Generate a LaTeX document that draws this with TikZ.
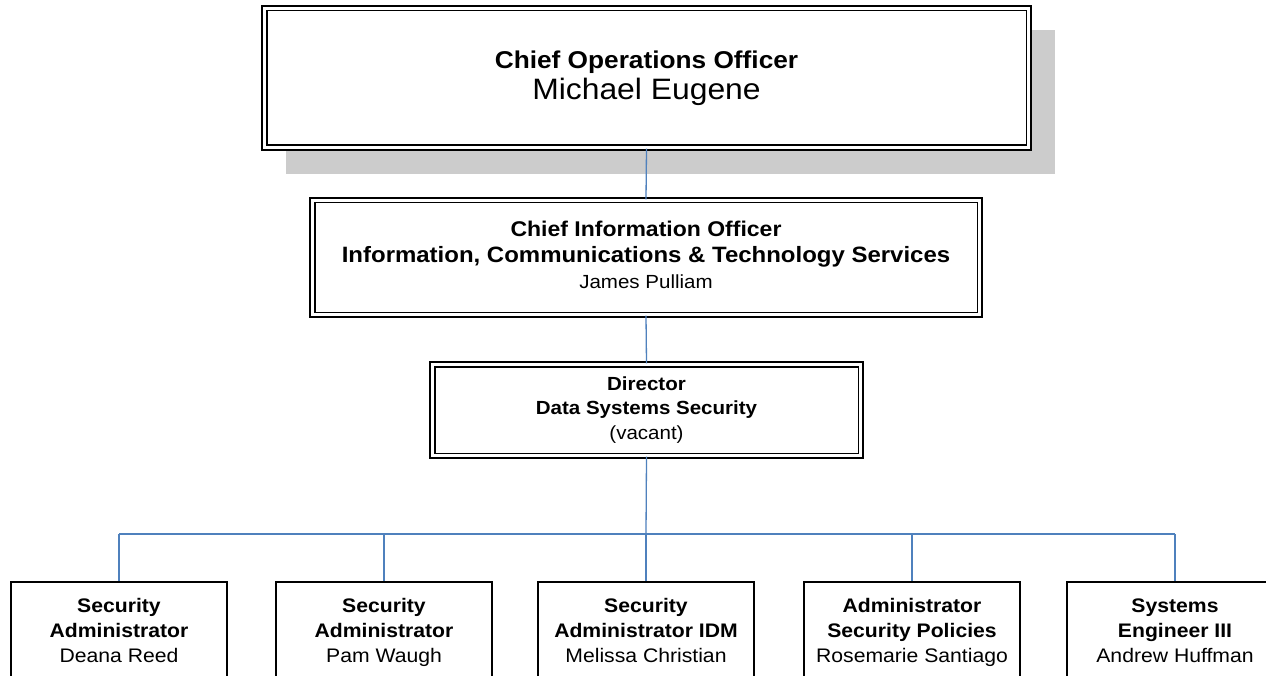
\documentclass[tikz,border=0pt]{standalone}
\usepackage{fontspec}
\setmainfont{Liberation Sans}[FakeStretch=1.08]
\definecolor{connblue}{RGB}{79,129,189}
\definecolor{shadowgray}{RGB}{204,204,204}
\begin{document}
\begin{tikzpicture}[x=1pt,y=-1pt,
  conn/.style={draw=connblue, line width=1.3pt},
  dblbox/.style={draw=black, double=white, line width=1.8pt, double distance=2.8pt, fill=white, align=center, inner sep=0pt},
  leafbox/.style={draw=black, line width=1.8pt, fill=white, minimum width=216pt, minimum height=100pt, align=center, inner sep=0pt, font=\fontsize{19.6}{25}\selectfont},
]
\clip (0,0) rectangle (1266,676);
\fill[white] (0,0) rectangle (1266,676);
\fill[shadowgray] (286,30) rectangle (1055,174);
\node[dblbox, minimum width=764.4pt, minimum height=139.4pt, font=\fontsize{24.3}{31}\selectfont] (coo) at (646.5,78)
  {\textbf{Chief Operations Officer}\strut\\{\fontsize{29.5}{31}\selectfont Michael Eugene}\strut};
\node[dblbox, minimum width=667.4pt, minimum height=114.4pt, font=\fontsize{21.3}{26}\selectfont] (cio) at (646,257.5)
  {\textbf{Chief Information Officer}\strut\\{\fontsize{22.2}{26}\selectfont\textbf{Information, Communications \& Technology Services}}\strut\\{\fontsize{19}{26}\selectfont James Pulliam}\strut};
\node[dblbox, minimum width=428.4pt, minimum height=91.4pt, font=\fontsize{19}{24.5}\selectfont] (dir) at (646.5,410)
  {\textbf{Director}\strut\\\textbf{Data Systems Security}\strut\\(vacant)\strut};
\node[leafbox] (l1) at (119,632) {\textbf{Security}\strut\\\textbf{Administrator}\strut\\Deana Reed\strut};
\node[leafbox] (l2) at (384,632) {\textbf{Security}\strut\\\textbf{Administrator}\strut\\Pam Waugh\strut};
\node[leafbox] (l3) at (646,632) {\textbf{Security}\strut\\\textbf{Administrator IDM}\strut\\Melissa Christian\strut};
\node[leafbox] (l4) at (912,632) {\textbf{Administrator}\strut\\\textbf{Security Policies}\strut\\Rosemarie Santiago\strut};
\node[leafbox] (l5) at (1175,632) {\textbf{Systems}\strut\\\textbf{Engineer III}\strut\\Andrew Huffman\strut};
\coordinate (bar) at (646,534);
\draw[conn] (coo.south) -- (cio.north);
\draw[conn] (cio.south) -- (dir.north);
\draw[conn] (dir.south) -- (bar);
\draw[conn] (l1.north |- bar) -- (l5.north |- bar);
\foreach \n in {l1,l2,l3,l4,l5} \draw[conn] (\n.north |- bar) -- (\n.north);
\end{tikzpicture}
\end{document}
